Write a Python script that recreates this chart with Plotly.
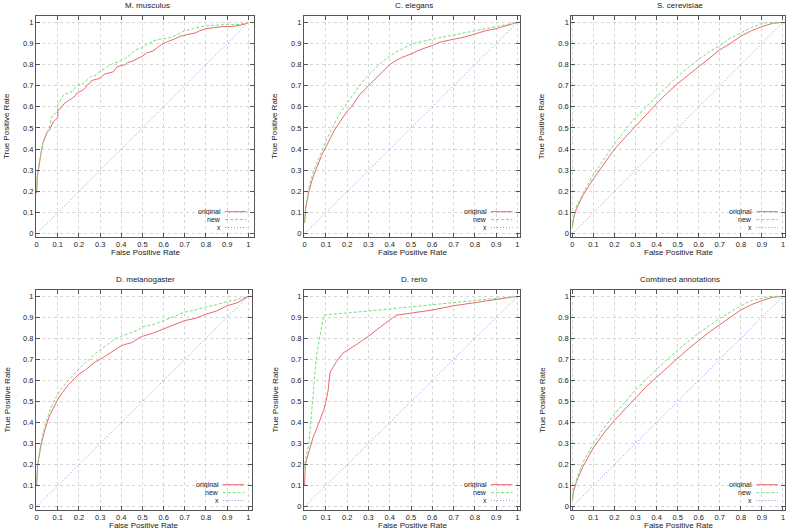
import plotly.graph_objects as go

# ---------------- data ----------------
panel_titles = ["M. musculus", "C. elegans", "S. cerevisiae",
                "D. melanogaster", "D. rerio", "Combined annotations"]
series_names = ["original", "new", "x"]
tick_vals = [0, 0.1, 0.2, 0.3, 0.4, 0.5, 0.6, 0.7, 0.8, 0.9, 1]
tick_text = ["0", "0.1", "0.2", "0.3", "0.4", "0.5", "0.6", "0.7", "0.8", "0.9", "1"]
diag_x = [0, 1]
diag_y = [0, 1]

# M. musculus
mm_orig_x = [0, 0.003, 0.01, 0.015, 0.02, 0.03, 0.04, 0.05, 0.06, 0.065, 0.07, 0.08, 0.09, 0.1, 0.1,
             0.11, 0.12, 0.13, 0.15, 0.16, 0.18, 0.19, 0.2, 0.22, 0.23, 0.24, 0.25, 0.26, 0.28, 0.3,
             0.31, 0.32, 0.34, 0.36, 0.37, 0.38, 0.4, 0.42, 0.43, 0.45, 0.47, 0.49, 0.5, 0.52, 0.55,
             0.57, 0.59, 0.61, 0.64, 0.66, 0.68, 0.7, 0.73, 0.75, 0.77, 0.8, 0.84, 0.88, 0.92, 0.96,
             0.98, 1.0]
mm_orig_y = [0.19, 0.27, 0.31, 0.36, 0.38, 0.43, 0.46, 0.48, 0.49, 0.5, 0.51, 0.53, 0.54, 0.55, 0.585,
             0.59, 0.6, 0.615, 0.63, 0.635, 0.65, 0.665, 0.67, 0.68, 0.69, 0.705, 0.71, 0.725, 0.73, 0.735,
             0.745, 0.755, 0.76, 0.765, 0.775, 0.79, 0.795, 0.8, 0.81, 0.815, 0.825, 0.835, 0.84, 0.855, 0.865,
             0.88, 0.895, 0.905, 0.915, 0.925, 0.935, 0.94, 0.945, 0.95, 0.96, 0.97, 0.975, 0.98, 0.98, 0.985,
             0.99, 1.0]
mm_new_x = [0, 0.003, 0.01, 0.02, 0.03, 0.04, 0.05, 0.06, 0.07, 0.075, 0.09, 0.1, 0.1, 0.11, 0.12, 0.13,
            0.15, 0.17, 0.18, 0.2, 0.22, 0.24, 0.26, 0.28, 0.3, 0.32, 0.34, 0.36, 0.38, 0.4, 0.42, 0.44,
            0.46, 0.48, 0.5, 0.52, 0.54, 0.56, 0.58, 0.62, 0.65, 0.68, 0.7, 0.74, 0.78, 0.82, 0.9, 0.96, 1.0]
mm_new_y = [0.2, 0.28, 0.32, 0.38, 0.43, 0.46, 0.48, 0.5, 0.55, 0.56, 0.57, 0.58, 0.61, 0.63, 0.645, 0.66,
            0.665, 0.675, 0.69, 0.705, 0.71, 0.73, 0.745, 0.75, 0.77, 0.78, 0.795, 0.805, 0.81, 0.82, 0.83, 0.845,
            0.865, 0.875, 0.88, 0.895, 0.905, 0.915, 0.92, 0.925, 0.935, 0.95, 0.96, 0.97, 0.98, 0.985, 0.99, 0.99, 1.0]

# C. elegans
ce_orig_x = [0, 0.005, 0.02, 0.04, 0.06, 0.08, 0.1, 0.12, 0.14, 0.16, 0.18, 0.2, 0.22, 0.24, 0.26, 0.28,
             0.3, 0.32, 0.35, 0.38, 0.4, 0.43, 0.46, 0.5, 0.53, 0.57, 0.6, 0.63, 0.67, 0.7, 0.75, 0.8,
             0.85, 0.9, 0.95, 1.0]
ce_orig_y = [0.05, 0.12, 0.2, 0.27, 0.32, 0.37, 0.41, 0.45, 0.49, 0.52, 0.55, 0.58, 0.6, 0.63, 0.66, 0.68,
             0.7, 0.72, 0.75, 0.78, 0.8, 0.82, 0.835, 0.85, 0.865, 0.88, 0.89, 0.905, 0.915, 0.92, 0.93, 0.945,
             0.96, 0.97, 0.985, 1.0]
ce_new_x = [0, 0.005, 0.02, 0.04, 0.06, 0.08, 0.1, 0.12, 0.14, 0.16, 0.18, 0.2, 0.22, 0.25, 0.28, 0.3,
            0.33, 0.36, 0.4, 0.43, 0.47, 0.5, 0.53, 0.57, 0.6, 0.65, 0.7, 0.75, 0.8, 0.85, 0.9, 0.95, 1.0]
ce_new_y = [0.05, 0.13, 0.22, 0.29, 0.34, 0.39, 0.44, 0.48, 0.52, 0.56, 0.59, 0.62, 0.65, 0.69, 0.73, 0.75,
            0.78, 0.81, 0.84, 0.86, 0.88, 0.895, 0.905, 0.915, 0.92, 0.93, 0.94, 0.95, 0.96, 0.97, 0.98, 0.99, 1.0]

# S. cerevisiae
sc_orig_x = [0, 0.005, 0.02, 0.05, 0.1, 0.15, 0.2, 0.25, 0.3, 0.35, 0.4, 0.45, 0.5, 0.55, 0.6, 0.65,
             0.7, 0.75, 0.8, 0.85, 0.9, 0.95, 1.0]
sc_orig_y = [0.03, 0.07, 0.12, 0.18, 0.26, 0.33, 0.4, 0.455, 0.51, 0.565, 0.615, 0.665, 0.71, 0.75, 0.79, 0.83,
             0.87, 0.9, 0.935, 0.96, 0.98, 0.995, 1.0]
sc_new_x = [0, 0.005, 0.02, 0.05, 0.1, 0.15, 0.2, 0.25, 0.3, 0.35, 0.4, 0.45, 0.5, 0.55, 0.6, 0.65,
            0.7, 0.75, 0.8, 0.85, 0.9, 0.95, 1.0]
sc_new_y = [0.03, 0.07, 0.13, 0.19, 0.28, 0.355, 0.425, 0.49, 0.55, 0.6, 0.65, 0.7, 0.745, 0.785, 0.825, 0.86,
            0.89, 0.925, 0.95, 0.975, 0.995, 1.0, 1.0]

# D. melanogaster
dm_orig_x = [0, 0.005, 0.02, 0.04, 0.06, 0.08, 0.1, 0.12, 0.15, 0.18, 0.2, 0.23, 0.25, 0.28, 0.3, 0.33,
             0.36, 0.4, 0.43, 0.45, 0.48, 0.5, 0.55, 0.6, 0.65, 0.7, 0.75, 0.8, 0.85, 0.88, 0.9, 0.95, 1.0]
dm_orig_y = [0.1, 0.2, 0.29, 0.37, 0.43, 0.47, 0.51, 0.54, 0.58, 0.61, 0.63, 0.65, 0.665, 0.69, 0.7, 0.72,
             0.74, 0.765, 0.775, 0.78, 0.8, 0.81, 0.825, 0.845, 0.865, 0.885, 0.895, 0.915, 0.93, 0.945, 0.955,
             0.97, 1.0]
dm_new_x = [0, 0.005, 0.02, 0.04, 0.06, 0.08, 0.1, 0.12, 0.15, 0.18, 0.2, 0.23, 0.25, 0.28, 0.3, 0.33,
            0.36, 0.4, 0.45, 0.48, 0.5, 0.55, 0.6, 0.65, 0.7, 0.75, 0.8, 0.85, 0.9, 0.95, 1.0]
dm_new_y = [0.1, 0.2, 0.3, 0.39, 0.45, 0.5, 0.535, 0.565, 0.6, 0.635, 0.655, 0.685, 0.7, 0.73, 0.745, 0.77,
            0.79, 0.81, 0.83, 0.84, 0.855, 0.865, 0.885, 0.905, 0.925, 0.935, 0.95, 0.96, 0.975, 0.985, 1.0]

# D. rerio
dr_orig_x = [0, 0.003, 0.02, 0.04, 0.06, 0.08, 0.09, 0.1, 0.11, 0.115, 0.12, 0.15, 0.17, 0.18, 0.25,
             0.3, 0.35, 0.4, 0.43, 0.5, 0.6, 0.7, 0.8, 0.9, 1.0]
dr_orig_y = [0.1, 0.2, 0.26, 0.33, 0.38, 0.43, 0.46, 0.5, 0.55, 0.6, 0.64, 0.69, 0.72, 0.73, 0.775,
             0.81, 0.85, 0.89, 0.91, 0.92, 0.935, 0.955, 0.97, 0.985, 1.0]
dr_new_x = [0, 0.003, 0.02, 0.033, 0.04, 0.045, 0.056, 0.07, 0.09, 0.1, 0.2, 0.3, 0.4, 0.5, 0.6, 0.7,
            0.8, 0.9, 1.0]
dr_new_y = [0.18, 0.22, 0.3, 0.43, 0.53, 0.6, 0.72, 0.8, 0.91, 0.912, 0.92, 0.93, 0.94, 0.95, 0.96, 0.97,
            0.98, 0.99, 1.0]

# Combined annotations
ca_orig_x = [0, 0.005, 0.02, 0.05, 0.1, 0.15, 0.2, 0.25, 0.3, 0.35, 0.4, 0.45, 0.5, 0.55, 0.6, 0.65,
             0.7, 0.75, 0.8, 0.85, 0.9, 0.95, 1.0]
ca_orig_y = [0.03, 0.07, 0.12, 0.19, 0.28, 0.35, 0.41, 0.465, 0.52, 0.57, 0.615, 0.66, 0.705, 0.75, 0.79, 0.83,
             0.865, 0.9, 0.935, 0.96, 0.98, 0.995, 1.0]
ca_new_x = [0, 0.005, 0.02, 0.05, 0.1, 0.15, 0.2, 0.25, 0.3, 0.35, 0.4, 0.45, 0.5, 0.55, 0.6, 0.65,
            0.7, 0.75, 0.8, 0.85, 0.9, 0.95, 1.0]
ca_new_y = [0.03, 0.08, 0.13, 0.21, 0.3, 0.375, 0.44, 0.5, 0.555, 0.605, 0.655, 0.7, 0.745, 0.785, 0.825, 0.86,
            0.895, 0.925, 0.955, 0.98, 0.99, 1.0, 1.0]

panel_data = [
    (mm_orig_x, mm_orig_y, mm_new_x, mm_new_y),
    (ce_orig_x, ce_orig_y, ce_new_x, ce_new_y),
    (sc_orig_x, sc_orig_y, sc_new_x, sc_new_y),
    (dm_orig_x, dm_orig_y, dm_new_x, dm_new_y),
    (dr_orig_x, dr_orig_y, dr_new_x, dr_new_y),
    (ca_orig_x, ca_orig_y, ca_new_x, ca_new_y),
]

# ---------------- layout / style ----------------
W, H = 792, 532
# plot-area boxes in pixels: (left, right, top, bottom)
boxes = [(36, 254, 16, 237), (304, 520, 16, 237), (571.3, 785.3, 16, 237),
         (36, 251.7, 290, 510), (304, 520, 290, 510), (571.3, 785.3, 290, 510)]
x_ranges = [[-0.003, 1.027], [-0.003, 1.012], [-0.005, 1.011],
            [-0.003, 1.016], [-0.003, 1.012], [-0.005, 1.011]]
y_range = [-0.016, 1.03]

FONT = "Liberation Sans, Arial, Helvetica, sans-serif"
TXT = "#222222"
FS = 7.5      # tick labels
FS_K = 7      # key
FS_T = 8      # titles
colors = ["rgb(232,105,110)", "rgb(120,222,120)", "rgb(145,145,228)"]
dashes = ["solid", "3px,2px", "1px,2px"]

def px_x(p):
    return p / W

def px_y(p):
    return 1 - p / H

fig = go.Figure()
annotations = []
shapes = []

for i, (ox, oy, nx, ny) in enumerate(panel_data):
    k = "" if i == 0 else str(i + 1)
    xa, ya = "x" + k, "y" + k
    L, R, T, B = boxes[i]
    fig.add_trace(go.Scatter(x=ox, y=oy, mode="lines", name=series_names[0], xaxis=xa, yaxis=ya,
                             line=dict(color=colors[0], width=1, dash=dashes[0]), showlegend=False))
    fig.add_trace(go.Scatter(x=nx, y=ny, mode="lines", name=series_names[1], xaxis=xa, yaxis=ya,
                             line=dict(color=colors[1], width=1, dash=dashes[1]), showlegend=False))
    fig.add_trace(go.Scatter(x=diag_x, y=diag_y, mode="lines", name=series_names[2], xaxis=xa, yaxis=ya,
                             line=dict(color=colors[2], width=1, dash=dashes[2]), showlegend=False))

    axis_common = dict(
        tickvals=tick_vals, ticktext=tick_text, ticks="inside", ticklen=4, tickcolor="#555",
        showline=True, linecolor="#555", linewidth=1, mirror="ticks",
        showgrid=True, gridcolor="#d6d6d6", griddash="dot", gridwidth=1,
        zeroline=False, tickfont=dict(family=FONT, size=FS, color=TXT), fixedrange=True,
    )
    fig.update_layout({
        "xaxis" + k: dict(axis_common, domain=[px_x(L), px_x(R)], range=x_ranges[i], anchor=ya),
        "yaxis" + k: dict(axis_common, domain=[px_y(B), px_y(T)], range=y_range, anchor=xa),
    })

    cx = (L + R) / 2
    cy = (T + B) / 2
    # panel title
    annotations.append(dict(text=panel_titles[i], x=px_x(cx + 2), y=px_y(T - 10.5), xref="paper",
                            yref="paper", showarrow=False, xanchor="center", yanchor="middle",
                            font=dict(family=FONT, size=FS_T, color=TXT)))
    # x axis title
    annotations.append(dict(text="False Positive Rate", x=px_x(cx), y=px_y(B + 15.5), xref="paper",
                            yref="paper", showarrow=False, xanchor="center", yanchor="middle",
                            font=dict(family=FONT, size=FS_T, color=TXT)))
    # y axis title
    annotations.append(dict(text="True Positive Rate", x=px_x(L - 29.5), y=px_y(cy), xref="paper",
                            yref="paper", showarrow=False, xanchor="center", yanchor="middle", textangle=-90,
                            font=dict(family=FONT, size=FS_T, color=TXT)))
    # gnuplot-style key, bottom-right inside the plot
    key_end, key_start = 7.5, 29
    for j, nm in enumerate(series_names):
        off = 25.3 - 7.9 * j
        annotations.append(dict(text=nm, xref=xa + " domain", yref=ya + " domain", x=1, y=0,
                                xshift=-(key_start + 3), yshift=off, showarrow=False,
                                xanchor="right", yanchor="middle", height=7, borderpad=0,
                                font=dict(family=FONT, size=FS_K, color=TXT)))
        shapes.append(dict(type="line", xref=xa + " domain", yref=ya + " domain",
                           xsizemode="pixel", ysizemode="pixel", xanchor=1, yanchor=0,
                           x0=-key_start, x1=-key_end, y0=off, y1=off,
                           line=dict(color=colors[j], width=1, dash=dashes[j])))

fig.update_layout(
    width=W, height=H, margin=dict(l=0, r=0, t=0, b=0),
    paper_bgcolor="white", plot_bgcolor="white",
    annotations=annotations, shapes=shapes, showlegend=False,
    font=dict(family=FONT, size=FS, color=TXT),
)

fig.write_html("out.html", config={"displayModeBar": False},
               post_script="document.body.style.margin='0';document.body.style.overflow='hidden';")
